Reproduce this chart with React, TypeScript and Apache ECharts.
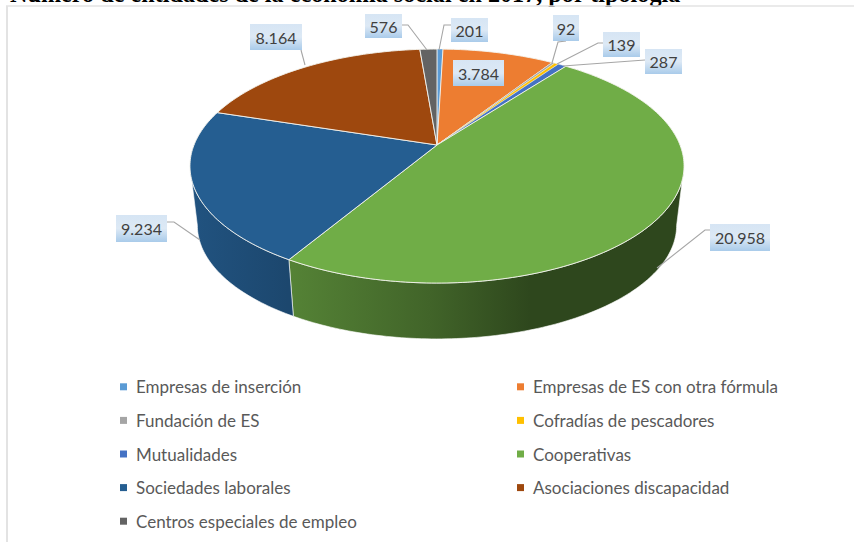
import React, { useEffect, useRef } from "react";
import * as echarts from "echarts";

const categories = [
  "Empresas de inserción",
  "Empresas de ES con otra fórmula",
  "Fundación de ES",
  "Cofradías de pescadores",
  "Mutualidades",
  "Cooperativas",
  "Sociedades laborales",
  "Asociaciones discapacidad",
  "Centros especiales de empleo",
];
const values = [201, 3784, 92, 139, 287, 20958, 9234, 8164, 576];
const valueLabels = ["201", "3.784", "92", "139", "287", "20.958", "9.234", "8.164", "576"];
const colors = ["#5B9BD5", "#ED7D31", "#A5A5A5", "#FFC000", "#4472C4", "#70AD47", "#255E91", "#9E480E", "#636363"];
const titleText = "Número de entidades de la economía social en 2017, por tipología";

// Label boxes [x, y, w, h] and leader lines, in pixels (layout, not data)
const labelBoxes = [
  [451, 18, 37, 24],
  [453, 60, 51, 26],
  [553, 15, 26, 26],
  [603, 32, 37, 25],
  [645, 49, 37, 25],
  [710, 224, 60, 27],
  [116, 215, 51, 27],
  [250, 24, 52, 26],
  [365, 14, 37, 24],
];
const leaders: number[][][] = [
  [[451, 25], [444, 25], [439, 50]],
  [],
  [[566, 41], [558, 42], [552, 63]],
  [[603, 43], [598, 43], [557, 64]],
  [[645, 60], [563, 66]],
  [[710, 230], [705, 230], [657, 268]],
  [[167, 222], [174, 222], [200, 240]],
  [[301, 50], [305, 65]],
  [[402, 25], [408, 25], [427, 50]],
];

// Projection of the tilted disc
const CX = 437, CY = 145, R = 243, A = 113.2, K = 0.18;
const DEPTH = 60, SHRINK = 0.97;
const WALL_FROM = (Math.acos(-K) * 180) / Math.PI;
const WALL_TO = 360 - WALL_FROM;
const total = values.reduce((a, b) => a + b, 0);
const starts = values.map((_, i) => (values.slice(0, i).reduce((a, b) => a + b, 0) / total) * 360);

function proj(deg: number, bottom = false): number[] {
  const t = (deg * Math.PI) / 180;
  const u = Math.sin(t), v = -Math.cos(t), d = 1 - K * v;
  const x = (R * u) / d, y = (A * v) / d;
  return bottom ? [CX + SHRINK * x, CY + DEPTH + SHRINK * y] : [CX + x, CY + y];
}

function arc(a: number, b: number, bottom = false): number[][] {
  const pts: number[][] = [];
  const n = Math.max(2, Math.ceil(b - a));
  for (let i = 0; i <= n; i++) pts.push(proj(a + ((b - a) * i) / n, bottom));
  return pts;
}

function hexShade(hex: string, f: number): string {
  const n = parseInt(hex.slice(1), 16);
  const c = [(n >> 16) & 255, (n >> 8) & 255, n & 255].map((x) => Math.round(x * f));
  return `rgb(${c[0]},${c[1]},${c[2]})`;
}

const shadeStops = [
  [190, 0.88],
  [288, 0.76],
  [430, 0.58],
  [530, 0.41],
  [690, 0.41],
];

function makeRenderItem(i: number) {
  return (_params: any, api: any) => {
    const v = api.value(0);
    const a = starts[i], b = a + (v / total) * 360;
    const children: any[] = [];
    const wa = Math.max(a, WALL_FROM), wb = Math.min(b, WALL_TO);
    if (wb > wa) {
      const grad = new echarts.graphic.LinearGradient(
        190, 0, 690, 0,
        shadeStops.map(([x, f]) => ({ offset: (x - 190) / 500, color: hexShade(colors[i], f) })),
        true
      );
      children.push({
        type: "polygon",
        z2: 1,
        shape: { points: [...arc(wa, wb), ...arc(wa, wb, true).reverse()] },
        style: { fill: grad, stroke: "rgba(255,255,255,0.75)", lineWidth: 0.8 },
      });
    }
    children.push({
      type: "polygon",
      z2: 2,
      shape: { points: [[CX, CY], ...arc(a, b)] },
      style: { fill: colors[i], stroke: "#f4f4ee", lineWidth: values[i] < 300 ? 0.4 : 0.9 },
    });
    const pts = leaders[i];
    if (pts.length) {
      children.push({
        type: "polyline",
        z2: 3,
        shape: { points: pts },
        style: { fill: "none", stroke: "#a6a6a6", lineWidth: 1.1 },
      });
    }
    const [x, y, w, h] = labelBoxes[i];
    children.push({
      type: "rect",
      z2: 4,
      shape: { x, y, width: w, height: h },
      style: {
        fill: new echarts.graphic.LinearGradient(0, 0, 0, 1, [
          { offset: 0, color: "#d6e5f4" },
          { offset: 0.5, color: "#dde9f5" },
          { offset: 1, color: "#a9cbea" },
        ]),
      },
    });
    children.push({
      type: "text",
      z2: 5,
      style: {
        text: valueLabels[i],
        x: x + w / 2,
        y: y + h / 2,
        textAlign: "center",
        textVerticalAlign: "middle",
        fontSize: 16,
        fontFamily: "Lato",
        fill: "#404040",
      },
    });
    return { type: "group", children };
  };
}

const legendBase = {
  orient: "vertical" as const,
  icon: "rect",
  itemWidth: 7,
  itemHeight: 7,
  itemGap: 14,
  padding: 0,
  selectedMode: false,
  textStyle: { fontFamily: "Lato", fontSize: 17, color: "#595959", lineHeight: 19.6, padding: [0, 0, 0, 4] },
};

export default function App() {
  const ref = useRef<HTMLDivElement>(null);
  useEffect(() => {
    const chart = echarts.init(ref.current!, undefined, { renderer: "svg" });
    chart.setOption({
      animation: false,
      backgroundColor: "#ffffff",
      legend: [
        { ...legendBase, left: 120, top: 377, data: categories.filter((_, i) => i % 2 === 0) },
        { ...legendBase, left: 517, top: 377, data: categories.filter((_, i) => i % 2 === 1) },
      ],
      graphic: [
        {
          type: "text",
          left: 10,
          top: -19,
          style: {
            text: titleText,
            font: "bold 24.2px 'Liberation Serif'",
            fill: "#000000",
          },
        },
        { type: "line", shape: { x1: 6, y1: 6, x2: 854, y2: 6 }, style: { stroke: "#e3e3e3", lineWidth: 1.5 } },
        { type: "line", shape: { x1: 7, y1: 6, x2: 7, y2: 542 }, style: { stroke: "#e3e3e3", lineWidth: 2 } },
      ],
      series: categories.map((name, i) => ({
        type: "custom",
        name,
        coordinateSystem: "none",
        itemStyle: { color: colors[i] },
        renderItem: makeRenderItem(i),
        data: [[values[i]]],
      })),
    });
    return () => chart.dispose();
  }, []);
  return <div ref={ref} style={{ position: "absolute", left: 0, top: 0, width: 854, height: 542 }} />;
}
